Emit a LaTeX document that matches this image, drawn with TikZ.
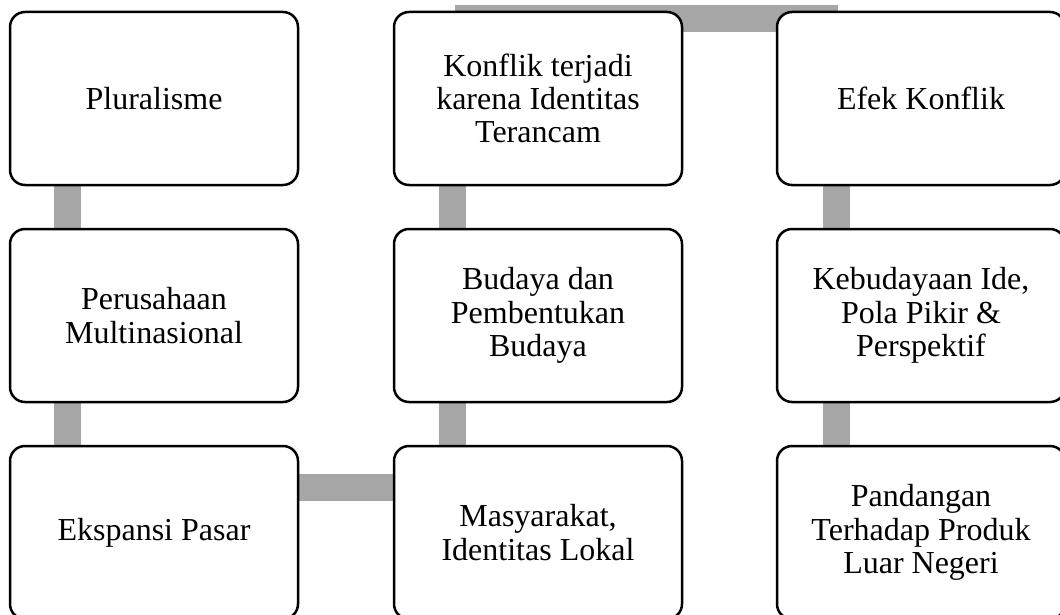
\documentclass[tikz,border=0pt]{standalone}
\usepackage{fontspec}
\setmainfont{Liberation Serif}
\usetikzlibrary{backgrounds}
\tikzset{
  stepbox/.style={draw=black, line width=2.5pt, fill=white, rounded corners=15pt,
    minimum width=288pt, minimum height=173pt, inner sep=0pt, align=center,
    font=\fontsize{32pt}{33.3pt}\selectfont},
  bar/.style={draw={rgb,255:red,166;green,166;blue,166}, line width=26.5pt, line cap=butt}
}
\begin{document}
\begin{tikzpicture}[x=1pt,y=-1pt]
\useasboundingbox (0,0) rectangle (1060,615);
\clip (0,0) rectangle (1060,615);
% column 1
\node[stepbox] (plu) at (154,98.5) {Pluralisme};
\node[stepbox] (per) at (154,315.5) {Perusahaan\\Multinasional};
\node[stepbox] (eks) at (154,532.5) {Ekspansi Pasar};
% column 2
\node[stepbox] (mas) at (538,532.5) {Masyarakat,\\Identitas Lokal};
\node[stepbox] (bud) at (538,315.5) {Budaya dan\\Pembentukan\\Budaya};
\node[stepbox] (kon) at (538,98.5) {Konflik terjadi\\karena Identitas\\Terancam};
% column 3
\node[stepbox] (efe) at (921,98.5) {Efek Konflik};
\node[stepbox] (keb) at (921,315.5) {Kebudayaan Ide,\\Pola Pikir \&\\Perspektif};
\node[stepbox] (pan) at (921,532.5) {Pandangan\\Terhadap Produk\\Luar Negeri};
\begin{scope}[on background layer]
  \draw[bar] ([xshift=58.5pt]plu.west) -- ([xshift=58.5pt]per.west);
  \draw[bar] ([xshift=58.5pt]per.west) -- ([xshift=58.5pt]eks.west);
  \draw[bar] ([yshift=-42.5pt]eks.north) -- ([yshift=-42.5pt]mas.north);
  \draw[bar] ([xshift=59.5pt]mas.west) -- ([xshift=59.5pt]bud.west);
  \draw[bar] ([xshift=59.5pt]bud.west) -- ([xshift=59.5pt]kon.west);
  \draw[bar] ([xshift=62pt,yshift=-8pt]kon.north west) -- ([xshift=62pt,yshift=-8pt]efe.north west);
  \draw[bar] ([xshift=60.5pt]efe.west) -- ([xshift=60.5pt]keb.west);
  \draw[bar] ([xshift=60.5pt]keb.west) -- ([xshift=60.5pt]pan.west);
\end{scope}
\end{tikzpicture}
\end{document}
